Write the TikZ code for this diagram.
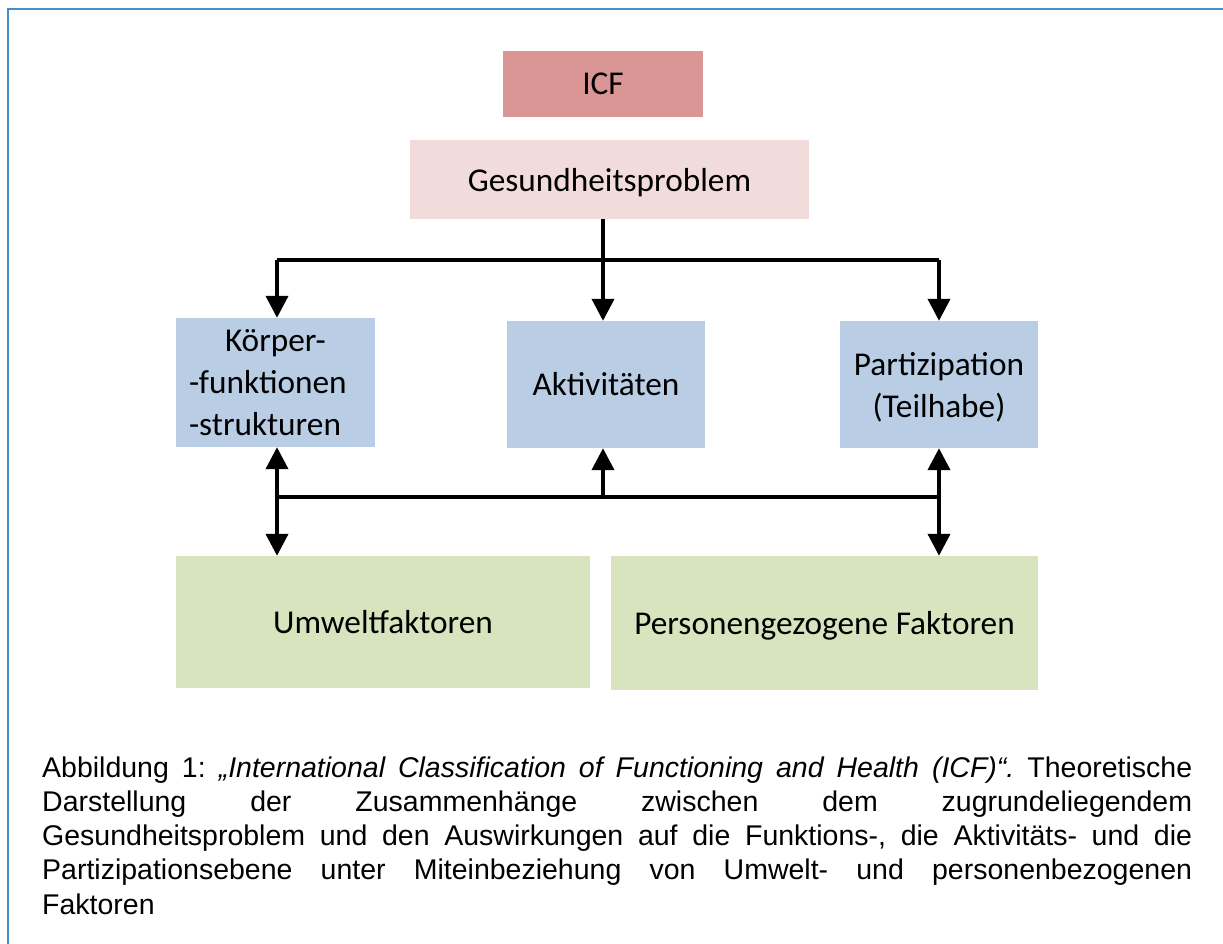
\documentclass[tikz,border=0pt]{standalone}
\usepackage{fontspec}
\setmainfont{Liberation Sans}
\newfontfamily\boxfont{Carlito}
\usetikzlibrary{arrows.meta}
\definecolor{framecol}{HTML}{4A8CCB}
\definecolor{icfcol}{HTML}{DA9694}
\definecolor{gescol}{HTML}{F2DCDB}
\definecolor{bluecol}{HTML}{B9CDE5}
\definecolor{greencol}{HTML}{D7E4BD}
\tikzset{
  boxbase/.style={draw=none, inner sep=0pt, align=center,
    font=\boxfont\fontsize{33.3}{42}\selectfont},
  nodepth/.style={text depth=0pt},
  conn/.style={line width=4pt, draw=black},
  arr/.style={conn, -{Triangle[width=22pt,length=22pt]}},
  darr/.style={conn, {Triangle[width=22pt,length=22pt]}-{Triangle[width=22pt,length=22pt]}},
}
\begin{document}
\begin{tikzpicture}[x=1pt,y=-1pt]
\useasboundingbox (0,0) rectangle (1223,944);
% outer frame
\coordinate (fbl) at (7.5,944);
\coordinate (ftl) at (7.5,9);
\coordinate (ftr) at (1223,9);
\draw[framecol, line width=2pt] (fbl) -- (ftl) -- (ftr);
% boxes
\node[boxbase, fill=icfcol, minimum width=200pt, minimum height=66pt] (icf) at (603,84) {ICF};
\node[boxbase, nodepth, fill=gescol, minimum width=399pt, minimum height=79pt] (ges) at (609.5,179.5) {Gesundheitsproblem};
\node[boxbase, fill=bluecol, minimum width=199pt, minimum height=129pt, align=left, inner xsep=13pt, text width=173pt] (koe) at (275.5,382.5) {\hspace*{36pt}K\"orper-\\-funktionen\\-strukturen};
\node[boxbase, fill=bluecol, minimum width=198pt, minimum height=127pt] (akt) at (606,384.5) {Aktivit\"aten};
\node[boxbase, nodepth, fill=bluecol, minimum width=198pt, minimum height=127pt] (par) at (939,384.5) {Partizipation\\(Teilhabe)};
\node[boxbase, fill=greencol, minimum width=414pt, minimum height=132pt] (umw) at (383,622) {Umweltfaktoren};
\node[boxbase, nodepth, fill=greencol, minimum width=427pt, minimum height=134pt] (per) at (824.5,623) {Personengezogene Faktoren};
% top connectors
\coordinate (tl) at (277,260);
\coordinate (tm) at (603,260);
\coordinate (tr) at (939,260);
\draw[conn] (tl) -- (tr);
\draw[arr] (ges.south -| tm) -- (tm |- akt.north);
\draw[arr] (tl) -- (tl |- koe.north);
\draw[arr] (tr) -- (tr |- par.north);
% bottom connectors
\coordinate (bl) at (277,497);
\coordinate (bm) at (603,497);
\coordinate (br) at (939,497);
\draw[conn] (bl) -- (br);
\draw[arr] (bm) -- (bm |- akt.south);
\draw[darr] (bl |- koe.south) -- (bl |- umw.north);
\draw[darr] (br |- par.south) -- (br |- per.north);
% caption
\node[anchor=base west, inner sep=0pt, font=\fontsize{28.5}{34.3}\selectfont] (cap) at (42,777) {\parbox[t]{1150pt}{\frenchspacing\hyphenpenalty=10000\tolerance=10000\emergencystretch=200pt\noindent
Abbildung 1: \textit{„International Classification of Functioning and Health (ICF)“.} Theoretische\linebreak
Darstellung der Zusammenh\"ange zwischen dem zugrundeliegendem\linebreak
Gesundheitsproblem und den Auswirkungen auf die Funktions-, die Aktivit\"ats- und die\linebreak
Partizipationsebene unter Miteinbeziehung von Umwelt- und personenbezogenen\linebreak
Faktoren}};
\end{tikzpicture}
\end{document}
